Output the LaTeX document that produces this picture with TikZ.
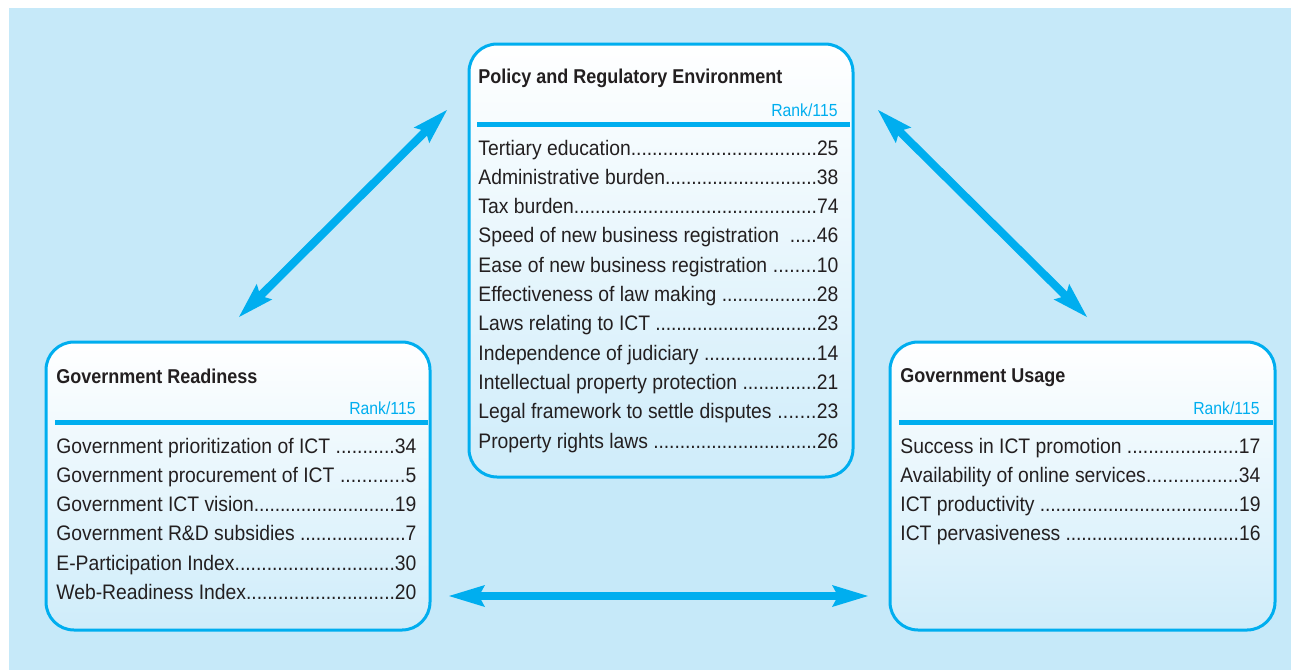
\documentclass[tikz,border=0pt]{standalone}
\usepackage{fontspec}
\setmainfont[FakeStretch=0.9]{Liberation Sans}
\newfontfamily\itemfont[FakeStretch=0.92]{Liberation Sans}
\usetikzlibrary{arrows.meta}
\definecolor{cyanline}{RGB}{0,174,239}
\definecolor{skyback}{RGB}{198,233,249}
\definecolor{inkgray}{RGB}{35,31,32}
\newcommand{\rankdots}{\xleaders\hbox to 2.6pt{\hss.\hss}\hfill}

\begin{document}
\begin{tikzpicture}[x=0.5pt, y=0.5pt,
	panel/.style={draw=cyanline, line width=1.5pt, rounded corners=14pt, top color=white, bottom color=skyback!85!white, inner sep=0pt},
	heading/.style={anchor=base west, inner sep=0pt, text=inkgray, font=\bfseries\fontsize{10pt}{12pt}\selectfont},
	ranklabel/.style={anchor=base east, inner sep=0pt, text=cyanline, font=\fontsize{8.75pt}{10pt}\selectfont},
	item/.style={anchor=base west, inner sep=0pt, text=inkgray, font=\itemfont\fontsize{10.5pt}{12pt}\selectfont},
	rule/.style={draw=cyanline, line width=2.5pt},
	link/.style={draw=cyanline, line width=4pt, {Stealth[length=18pt,width=11pt,inset=3pt,line width=0pt]}-{Stealth[length=18pt,width=11pt,inset=3pt,line width=0pt]}}]
\useasboundingbox (0,0) rectangle (1291,-670);
\fill[white] (0,0) rectangle (1291,-670);
\fill[skyback] (9,-8) rectangle (1291,-670);

% the three boxes
\node (policy) at (661,-260.5) [panel, minimum width=192pt, minimum height=216.5pt] {};
\node (readiness) at (238,-486) [panel, minimum width=192pt, minimum height=144pt] {};
\node (usage) at (1082.5,-486) [panel, minimum width=192.5pt, minimum height=144pt] {};

% policy and regulatory environment
\node (pol-title) at (478,-83) [heading] {Policy and Regulatory Environment};
\node (pol-rank) at (838,-116) [ranklabel] {Rank/115};
\draw[rule] (477,-124.5) -- (850,-124.5);
\foreach \what/\val [count=\i from 0] in {Tertiary education/25, Administrative burden/38, Tax burden/74,
		Speed of new business registration\ \ /46, Ease of new business registration\ /10,
		Effectiveness of law making\ /28, Laws relating to ICT\ /23, Independence of judiciary\ /14,
		Intellectual property protection\ /21, Legal framework to settle disputes\ /23, Property rights laws\ /26}
	\node (pol-\i) at (478,{-155-29.3*\i}) [item] {\hbox to 180pt{\what\rankdots\val}};

% government readiness
\node (rea-title) at (56,-383) [heading] {Government Readiness};
\node (rea-rank) at (416,-414) [ranklabel] {Rank/115};
\draw[rule] (55,-422) -- (428,-422);
\foreach \what/\val [count=\i from 0] in {Government prioritization of ICT\ /34, Government procurement of ICT\ /5,
		Government ICT vision/19, Government R\&D subsidies\ /7, E-Participation Index/30, Web-Readiness Index/20}
	\node (rea-\i) at (56,{-453-29.3*\i}) [item] {\hbox to 180pt{\what\rankdots\val}};

% government usage
\node (use-title) at (900,-382) [heading] {Government Usage};
\node (use-rank) at (1260,-414) [ranklabel] {Rank/115};
\draw[rule] (899,-422) -- (1273,-422);
\foreach \what/\val [count=\i from 0] in {Success in ICT promotion\ /17, Availability of online services/34,
		ICT productivity\ /19, ICT pervasiveness\ /16}
	\node (use-\i) at (900,{-453-29.3*\i}) [item] {\hbox to 180pt{\what\rankdots\val}};

% arrows between the boxes
\coordinate (tl-a) at (239,-317);
\coordinate (tl-b) at (447,-110);
\coordinate (tr-a) at (878,-110);
\coordinate (tr-b) at (1087,-317);
\coordinate (bt-a) at (449,-596);
\coordinate (bt-b) at (868,-596);
\draw[link] (tl-a) -- (tl-b);
\draw[link] (tr-a) -- (tr-b);
\draw[link] (bt-a) -- (bt-b);
\end{tikzpicture}
\end{document}
